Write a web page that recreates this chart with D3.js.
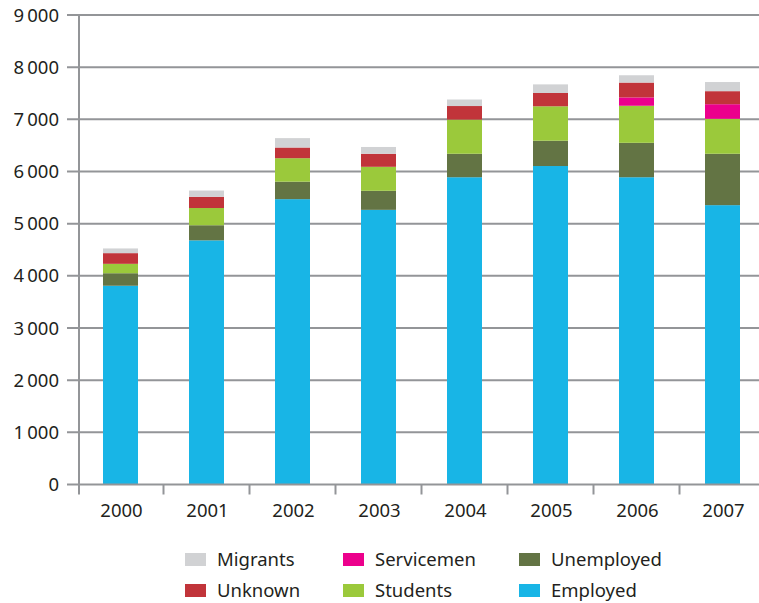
<!DOCTYPE html>
<html>
<head>
<meta charset="utf-8">
<script src="https://cdn.jsdelivr.net/npm/d3@7"></script>
<style>
  body { margin: 0; background: #fff; }
  text { font-family: "Noto Sans", sans-serif; fill: #231f20; }
</style>
</head>
<body>
<div id="chart"></div>
<script>
// data
var years = ["2000", "2001", "2002", "2003", "2004", "2005", "2006", "2007"];
var employed   = [3810, 4680, 5470, 5265, 5890, 6105, 5890, 5355];
var unemployed = [240, 290, 335, 365, 450, 485, 660, 985];
var students   = [180, 330, 450, 460, 655, 660, 710, 670];
var servicemen = [0, 0, 0, 0, 0, 0, 160, 280];
var unknown    = [205, 215, 205, 250, 260, 255, 285, 250];
var migrants   = [90, 120, 180, 130, 125, 165, 140, 175];
var yTicks = [0, 1000, 2000, 3000, 4000, 5000, 6000, 7000, 8000, 9000];

var keys = ["Employed", "Unemployed", "Students", "Servicemen", "Unknown", "Migrants"];
var colors = {
  Employed: "#18b5e6", Unemployed: "#637444", Students: "#9bc93b",
  Servicemen: "#ec008c", Unknown: "#c1343a", Migrants: "#d1d2d4"
};

var rows = years.map(function(y, i) {
  return { year: y, Employed: employed[i], Unemployed: unemployed[i], Students: students[i],
           Servicemen: servicemen[i], Unknown: unknown[i], Migrants: migrants[i] };
});

var width = 759, height = 603;
var x0 = 77.5, plotTop = 15, plotBottom = 484.5;

var svg = d3.select("#chart").append("svg")
    .attr("width", width)
    .attr("height", height);

var x = d3.scaleBand()
    .domain(years)
    .range([x0, x0 + 86 * years.length]);

var y = d3.scaleLinear()
    .domain([0, 9000])
    .range([plotBottom, plotTop]);

var grey = "#939598";

// gridlines (they also act as left tick marks)
svg.append("g").selectAll("line")
    .data(yTicks.filter(function(d) { return d > 0; }))
    .enter().append("line")
      .attr("x1", 67).attr("x2", width)
      .attr("y1", function(d) { return y(d); })
      .attr("y2", function(d) { return y(d); })
      .attr("stroke", grey).attr("stroke-width", 2);

// y labels
svg.append("g").selectAll("text")
    .data(yTicks)
    .enter().append("text")
      .attr("x", 59)
      .attr("y", function(d) { return y(d); })
      .attr("dy", "0.36em")
      .attr("text-anchor", "end")
      .style("font-size", "18.5px")
      .text(function(d) { return d3.format(",")(d).replace(",", "\u2009"); });

// bars
var series = d3.stack().keys(keys)(rows);
var barW = 35;

svg.append("g").selectAll("g")
    .data(series)
    .enter().append("g")
      .attr("fill", function(d) { return colors[d.key]; })
    .selectAll("rect")
    .data(function(d) { return d; })
    .enter().append("rect")
      .attr("x", function(d) { return x(d.data.year) + x.bandwidth() / 2 - barW / 2; })
      .attr("width", barW)
      .attr("y", function(d) { return y(d[1]); })
      .attr("height", function(d) { return y(d[0]) - y(d[1]); });

// axes lines
svg.append("line")
    .attr("x1", 79).attr("x2", 79)
    .attr("y1", plotTop).attr("y2", plotBottom + 10)
    .attr("stroke", grey).attr("stroke-width", 2);

svg.append("line")
    .attr("x1", 67).attr("x2", width)
    .attr("y1", plotBottom).attr("y2", plotBottom)
    .attr("stroke", grey).attr("stroke-width", 2);

// x ticks at band edges
svg.append("g").selectAll("line")
    .data(years.slice(1))
    .enter().append("line")
      .attr("x1", function(d) { return x(d); })
      .attr("x2", function(d) { return x(d); })
      .attr("y1", plotBottom).attr("y2", plotBottom + 10)
      .attr("stroke", grey).attr("stroke-width", 2);

svg.append("g").selectAll("text")
    .data(years)
    .enter().append("text")
      .attr("x", function(d) { return x(d) + x.bandwidth() / 2 + 1; })
      .attr("y", 517)
      .attr("text-anchor", "middle")
      .style("font-size", "18.5px")
      .text(function(d) { return d; });

// legend
var legendItems = [
  { key: "Migrants", col: 0, row: 0 }, { key: "Servicemen", col: 1, row: 0 }, { key: "Unemployed", col: 2, row: 0 },
  { key: "Unknown", col: 0, row: 1 }, { key: "Students", col: 1, row: 1 }, { key: "Employed", col: 2, row: 1 }
];
var colX = [185, 343, 519];
var rowY = [566, 597];

var legend = svg.append("g").selectAll("g")
    .data(legendItems)
    .enter().append("g")
      .attr("transform", function(d) { return "translate(" + colX[d.col] + "," + rowY[d.row] + ")"; });

legend.append("rect")
    .attr("x", 0).attr("y", -13)
    .attr("width", 21).attr("height", 13)
    .attr("fill", function(d) { return colors[d.key]; });

legend.append("text")
    .attr("x", 32).attr("y", 0)
    .style("font-size", "18.5px")
    .text(function(d) { return d.key; });
</script>
</body>
</html>
